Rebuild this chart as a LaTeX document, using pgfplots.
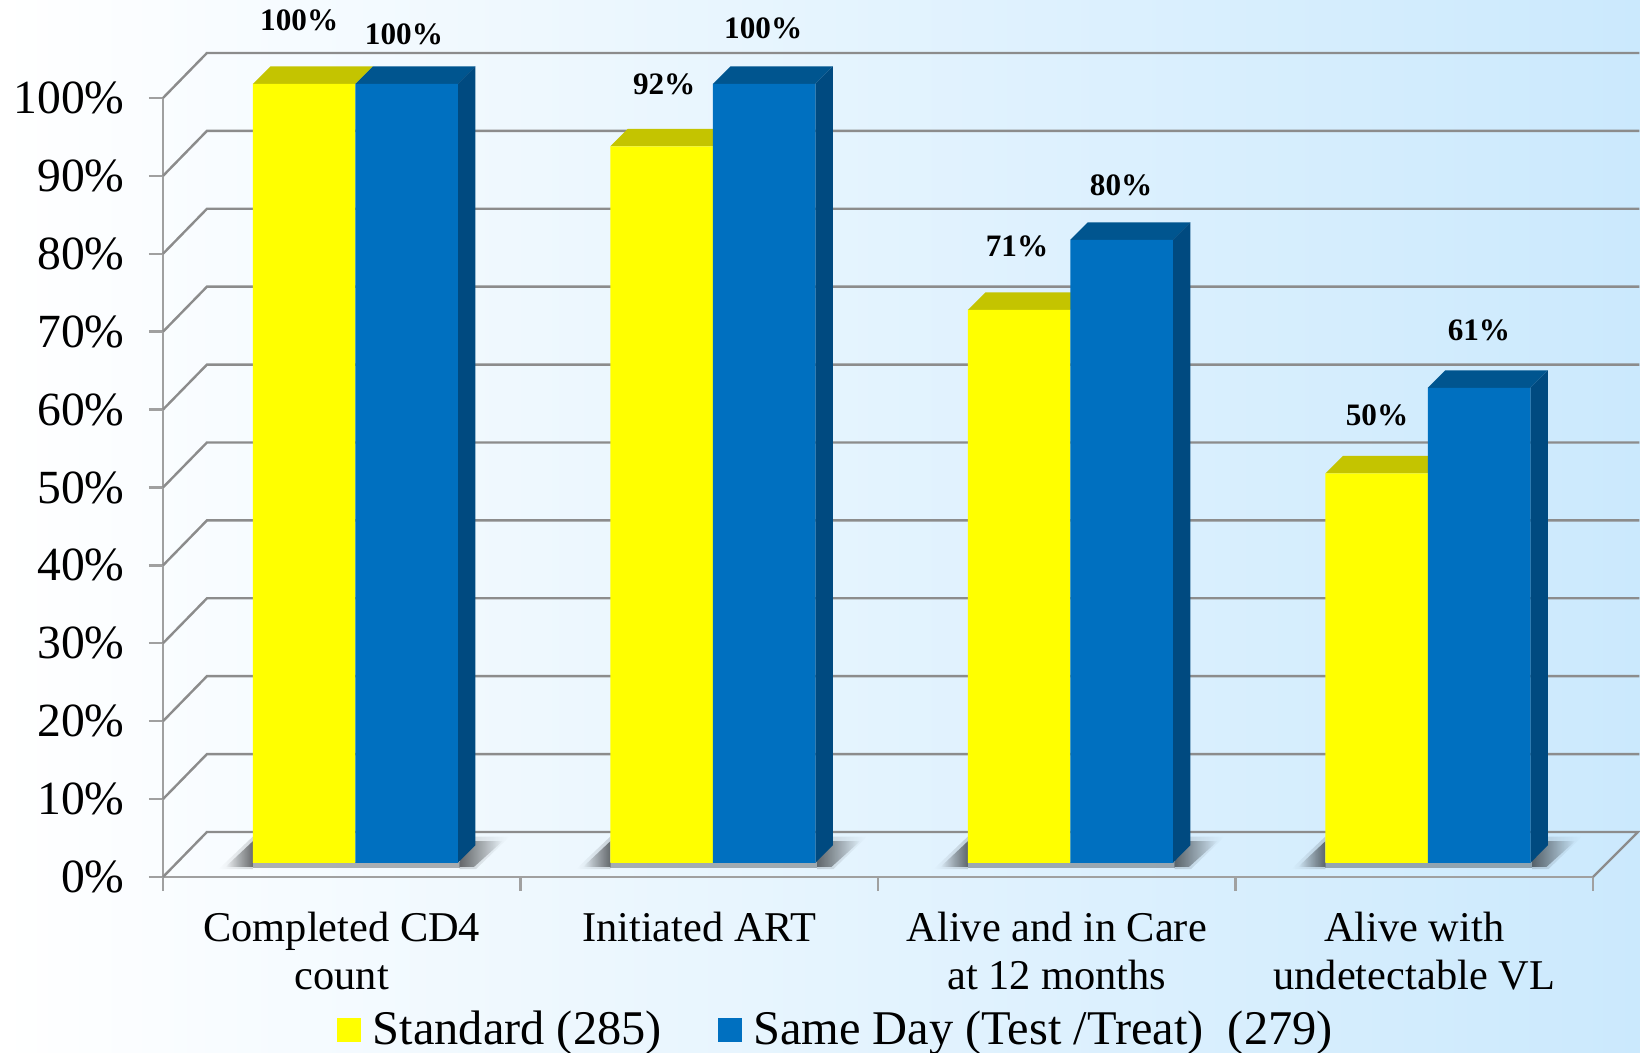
\documentclass[border=0pt]{standalone}
\usepackage{fontspec}
\setmainfont{Liberation Serif}
\usepackage{pgfplots}
\usepackage{pgfplotstable}
\pgfplotsset{compat=1.18}
\usetikzlibrary{fadings}

\definecolor{bgleft}{HTML}{FFFFFF}
\definecolor{bgmid}{HTML}{E4F3FE}
\definecolor{bgright}{HTML}{CBE9FD}
\definecolor{gridc}{HTML}{8C8C8C}
\definecolor{axisc}{HTML}{A0A0A0}
\definecolor{yfront}{HTML}{FFFF00}
\definecolor{ytop}{HTML}{C4C400}
\definecolor{bfront}{HTML}{0070C0}
\definecolor{btop}{HTML}{00558F}
\definecolor{bside}{HTML}{004A80}

\pgfplotstableread{
x    standard sameday
0.5  100      100
1.5  92       100
2.5  71       80
3.5  50       61
}\bardata

% floor shadow outlines for the first group, moved along for the others
\pgfplotstableread{
x      y
0.155  -0.8
0.2515 3.4
0.2515 -0.8
}\shadowleftouter
\pgfplotstableread{
x      y
0.175  -0.5
0.2515 2.8
0.2515 -0.5
}\shadowleftinner
\pgfplotstableread{
x     y
0.83  -0.8
0.875 -0.8
0.97  3.4
0.83  3.4
}\shadowrightouter
\pgfplotstableread{
x     y
0.83  -0.5
0.87  -0.5
0.95  2.8
0.83  2.8
}\shadowrightinner
\pgfplotstableread{
x      y
0.2515 -0.7
0.83   -0.7
0.83   0.1
0.2515 0.1
}\shadowstrip

\begin{document}
\begin{tikzpicture}
\path[use as bounding box] (-81.5pt,-88pt) rectangle (738.5pt,438.5pt);
\shade[left color=bgleft,middle color=bgmid,right color=bgright] (-81.5pt,-88pt) rectangle (738.5pt,438.5pt);
\begin{axis}[
    scale only axis,
    width=715pt, height=389.5pt,
    xmin=0, xmax=4, ymin=0, ymax=100,
    clip=false,
    axis lines=left,
    axis line style={-,draw=axisc,line width=1.2pt},
    tick align=outside,
    major tick length=7pt,
    tick style={draw=axisc,line width=1.2pt},
    xtick={0,1,2,3,4},
    x tick label as interval,
    xticklabels={{Completed CD4\\count},{Initiated ART},{Alive and in Care\\at 12 months},{Alive with\\undetectable VL}},
    xticklabel style={align=center,inner sep=0pt,yshift=-10.4pt,font=\fontsize{21.2}{24}\selectfont},
    ytick={0,10,20,30,40,50,60,70,80,90,100},
    yticklabels={0\%,10\%,20\%,30\%,40\%,50\%,60\%,70\%,80\%,90\%,100\%},
    yticklabel style={inner sep=0pt,xshift=-12pt,font=\fontsize{23.8}{28}\selectfont},
    legend image code/.code={\fill[#1] (0pt,-6pt) rectangle (12pt,6pt); \path (15.7pt,0pt);},
    legend style={at={(0.1217,-0.1958)},anchor=west,draw=none,fill=none,inner sep=0pt,
        font=\fontsize{24.2}{28}\selectfont,legend columns=2,
        /tikz/column 2/.style={column sep=26pt}},
    legend cell align=left,
]

% back wall and side wall grid lines
\addplot[gridc,line width=1.2pt,forget plot] coordinates {(0,0) (0.123,5.78) (4.126,5.78) (4,0)};
\addplot[gridc,line width=1.2pt,forget plot] coordinates {(0,10) (0.123,15.78) (4.13,15.78)};
\addplot[gridc,line width=1.2pt,forget plot] coordinates {(0,20) (0.123,25.78) (4.13,25.78)};
\addplot[gridc,line width=1.2pt,forget plot] coordinates {(0,30) (0.123,35.78) (4.13,35.78)};
\addplot[gridc,line width=1.2pt,forget plot] coordinates {(0,40) (0.123,45.78) (4.13,45.78)};
\addplot[gridc,line width=1.2pt,forget plot] coordinates {(0,50) (0.123,55.78) (4.13,55.78)};
\addplot[gridc,line width=1.2pt,forget plot] coordinates {(0,60) (0.123,65.78) (4.13,65.78)};
\addplot[gridc,line width=1.2pt,forget plot] coordinates {(0,70) (0.123,75.78) (4.13,75.78)};
\addplot[gridc,line width=1.2pt,forget plot] coordinates {(0,80) (0.123,85.78) (4.13,85.78)};
\addplot[gridc,line width=1.2pt,forget plot] coordinates {(0,90) (0.123,95.78) (4.13,95.78)};
\addplot[gridc,line width=1.2pt,forget plot] coordinates {(0,100) (0.123,105.78) (4.13,105.78)};

% shadows on the floor
\pgfplotsinvokeforeach{0,1,2,3}{
  \addplot[fill=black,opacity=0.15,draw=none,forget plot,yshift=7pt,path fading=west] table[x expr=\thisrow{x}+#1,y=y] {\shadowleftouter};
  \addplot[fill=black,opacity=0.5,draw=none,forget plot,yshift=7pt,path fading=west] table[x expr=\thisrow{x}+#1,y=y] {\shadowleftinner};
  \addplot[fill=black,opacity=0.15,draw=none,forget plot,yshift=7pt,path fading=east] table[x expr=\thisrow{x}+#1,y=y] {\shadowrightouter};
  \addplot[fill=black,opacity=0.5,draw=none,forget plot,yshift=7pt,path fading=east] table[x expr=\thisrow{x}+#1,y=y] {\shadowrightinner};
  \addplot[fill=black,opacity=0.3,draw=none,forget plot,yshift=7pt] table[x expr=\thisrow{x}+#1,y=y] {\shadowstrip};
}

% yellow bars
\addplot[fill=ytop,draw=none,forget plot,yshift=7pt] coordinates {(0.2515,100) (0.3005,102.25) (0.587,102.25) (0.538,100)};
\addplot[fill=ytop,draw=none,forget plot,yshift=7pt] coordinates {(1.2515,92) (1.3005,94.25) (1.587,94.25) (1.538,92)};
\addplot[fill=ytop,draw=none,forget plot,yshift=7pt] coordinates {(2.2515,71) (2.3005,73.25) (2.587,73.25) (2.538,71)};
\addplot[fill=ytop,draw=none,forget plot,yshift=7pt] coordinates {(3.2515,50) (3.3005,52.25) (3.587,52.25) (3.538,50)};
\addplot[ybar,bar width=0.2865,bar shift=-0.10525,fill=yfront,draw=none,forget plot,yshift=7pt] table[x=x,y=standard] {\bardata};

% blue bars
\addplot[fill=btop,draw=none,forget plot,yshift=7pt] coordinates {(0.538,100) (0.587,102.25) (0.8735,102.25) (0.8245,100)};
\addplot[fill=btop,draw=none,forget plot,yshift=7pt] coordinates {(1.538,100) (1.587,102.25) (1.8735,102.25) (1.8245,100)};
\addplot[fill=btop,draw=none,forget plot,yshift=7pt] coordinates {(2.538,80) (2.587,82.25) (2.8735,82.25) (2.8245,80)};
\addplot[fill=btop,draw=none,forget plot,yshift=7pt] coordinates {(3.538,61) (3.587,63.25) (3.8735,63.25) (3.8245,61)};
\addplot[fill=bside,draw=none,forget plot,yshift=7pt] coordinates {(0.8245,0) (0.8735,2.25) (0.8735,102.25) (0.8245,100)};
\addplot[fill=bside,draw=none,forget plot,yshift=7pt] coordinates {(1.8245,0) (1.8735,2.25) (1.8735,102.25) (1.8245,100)};
\addplot[fill=bside,draw=none,forget plot,yshift=7pt] coordinates {(2.8245,0) (2.8735,2.25) (2.8735,82.25) (2.8245,80)};
\addplot[fill=bside,draw=none,forget plot,yshift=7pt] coordinates {(3.8245,0) (3.8735,2.25) (3.8735,63.25) (3.8245,61)};
\addplot[ybar,bar width=0.2865,bar shift=0.18125,fill=bfront,draw=none,forget plot,yshift=7pt] table[x=x,y=sameday] {\bardata};

\addlegendimage{fill=yfront,draw=none}
\addlegendentry{Standard (285)}
\addlegendimage{fill=bfront,draw=none}
\addlegendentry{Same Day (Test /Treat) \ (279)}

% value labels
\tikzset{vlabel/.style={font=\fontsize{15.6}{17}\selectfont\bfseries,inner sep=0pt}}
\node[vlabel] at (axis cs:0.381,110.0) {100\%};
\node[vlabel] at (axis cs:0.674,108.2) {100\%};
\node[vlabel] at (axis cs:1.402,101.8) {92\%};
\node[vlabel] at (axis cs:1.679,109.0) {100\%};
\node[vlabel] at (axis cs:2.389,81.0) {71\%};
\node[vlabel] at (axis cs:2.680,88.8) {80\%};
\node[vlabel] at (axis cs:3.396,59.2) {50\%};
\node[vlabel] at (axis cs:3.681,70.2) {61\%};
\end{axis}
\end{tikzpicture}
\end{document}
